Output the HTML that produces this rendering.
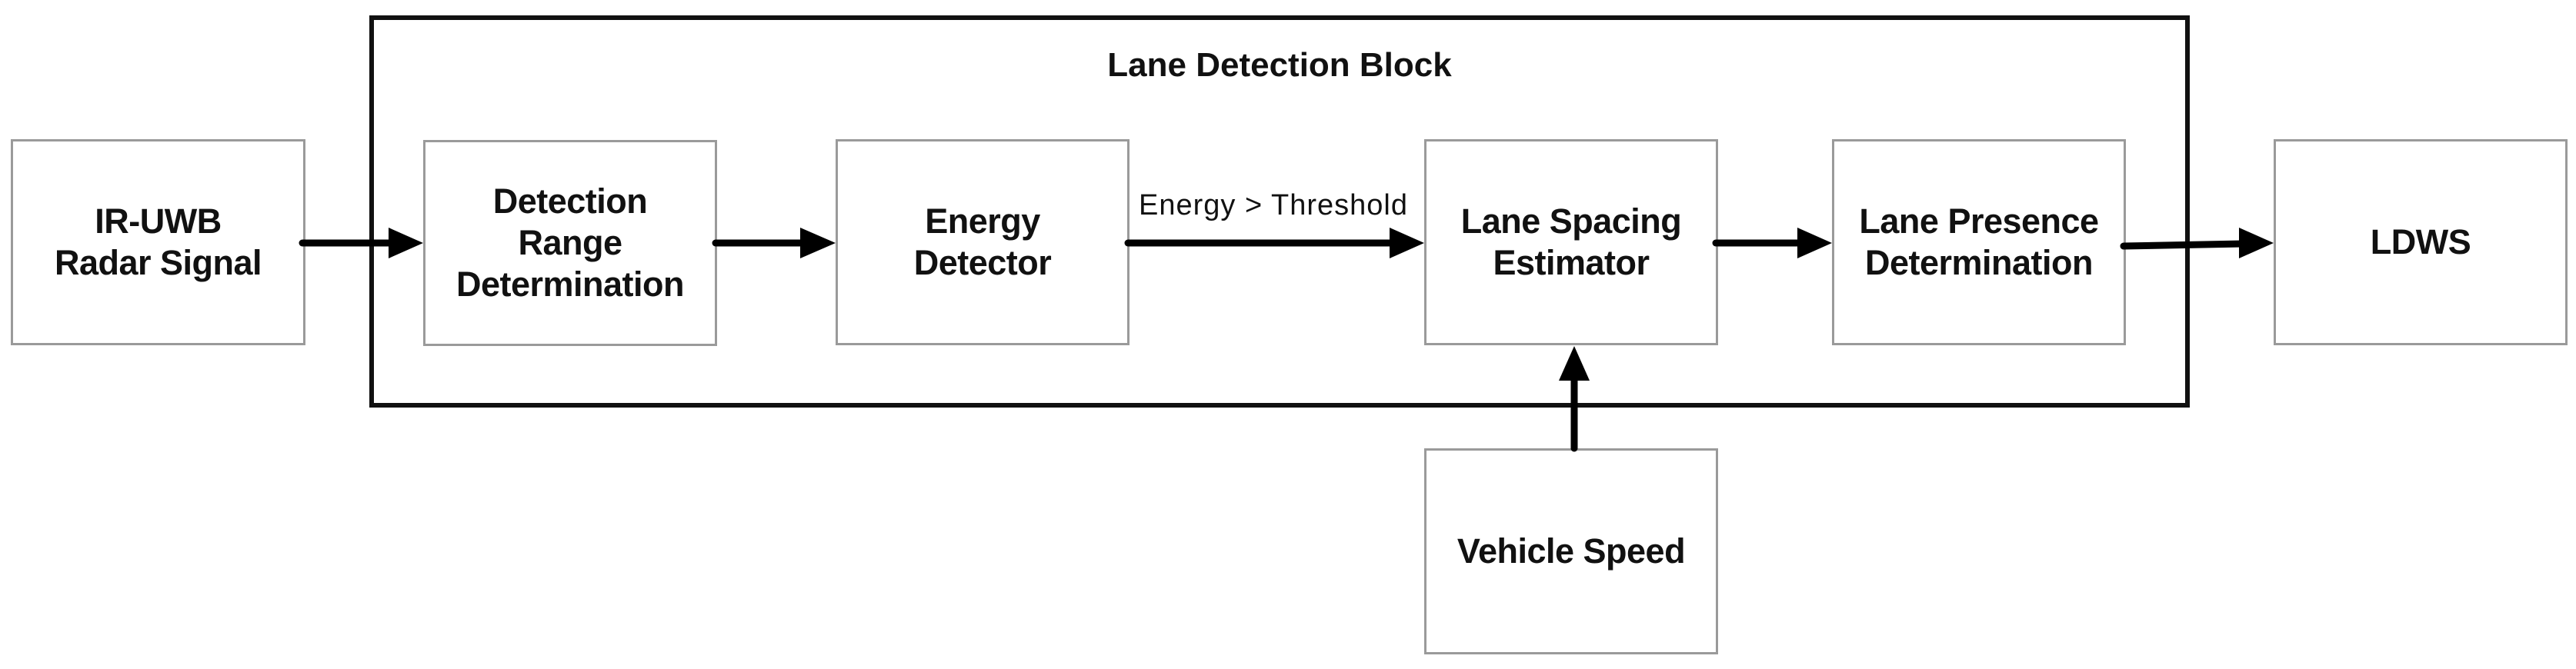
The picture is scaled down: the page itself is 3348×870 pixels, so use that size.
<!DOCTYPE html>
<html><head><meta charset="utf-8"><style>
html,body{margin:0;padding:0;background:#fff;}
body{width:3348px;height:870px;position:relative;overflow:hidden;font-family:"Liberation Sans",sans-serif;}
.b{position:absolute;border:3px solid #9a9a9a;background:#fff;box-sizing:border-box;display:flex;align-items:center;justify-content:center;text-align:center;font-weight:bold;font-size:45px;line-height:54px;color:#111;letter-spacing:-0.5px;}
</style></head><body>
<div style="position:absolute;left:480px;top:20px;width:2366px;height:510px;border:6px solid #111;box-sizing:border-box;"></div>
<div style="position:absolute;left:1363px;top:60px;width:600px;text-align:center;font-weight:bold;font-size:44px;letter-spacing:0px;color:#111;">Lane Detection Block</div>
<div class="b" style="left:14px;top:181px;width:383px;height:268px;">IR-UWB<br>Radar Signal</div>
<div class="b" style="left:550px;top:182px;width:382px;height:268px;">Detection<br>Range<br>Determination</div>
<div class="b" style="left:1086px;top:181px;width:382px;height:268px;">Energy<br>Detector</div>
<div class="b" style="left:1851px;top:181px;width:382px;height:268px;">Lane Spacing<br>Estimator</div>
<div class="b" style="left:2381px;top:181px;width:382px;height:268px;">Lane Presence<br>Determination</div>
<div class="b" style="left:2955px;top:181px;width:382px;height:268px;">LDWS</div>
<div class="b" style="left:1851px;top:583px;width:382px;height:268px;">Vehicle Speed</div>
<div style="position:absolute;left:1480px;top:246px;font-size:38px;color:#111;letter-spacing:1px;">Energy &gt; Threshold</div>
<svg width="3348" height="870" style="position:absolute;left:0;top:0" xmlns="http://www.w3.org/2000/svg">
<g stroke="#000" stroke-width="9" stroke-linecap="round">
<line x1="393" y1="316" x2="510" y2="316"/>
<line x1="930" y1="316" x2="1045" y2="316"/>
<line x1="1466" y1="316" x2="1810" y2="316"/>
<line x1="2230" y1="316" x2="2340" y2="316"/>
<line x1="2760" y1="320" x2="2915" y2="317"/>
<line x1="2046" y1="583" x2="2046" y2="490"/>
</g>
<g fill="#000">
<polygon points="505,296 550,316 505,336"/>
<polygon points="1040,296 1086,316 1040,336"/>
<polygon points="1806,296 1851,316 1806,336"/>
<polygon points="2336,296 2381,316 2336,336"/>
<polygon points="2910,296 2955,316 2910,336"/>
<polygon points="2026,495 2046,450 2066,495"/>
</g>
</svg>
</body></html>
